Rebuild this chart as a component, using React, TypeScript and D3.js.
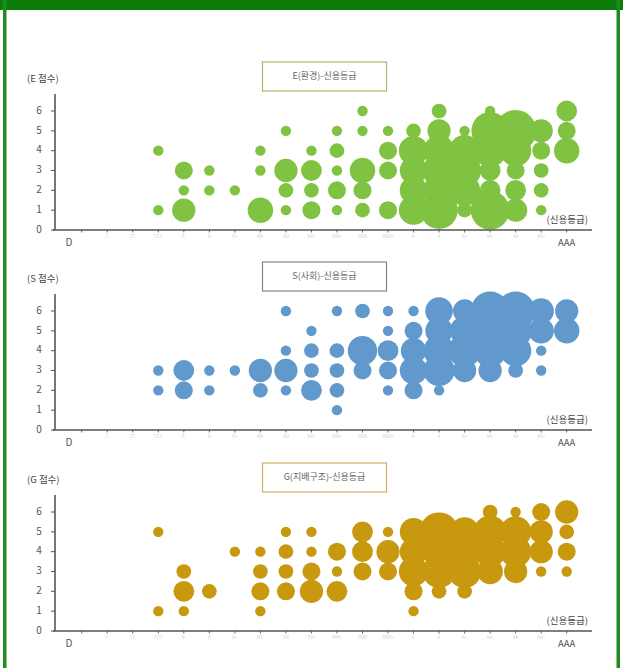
import React from 'react';
import * as d3 from 'd3';

// credit grades, low to high
const grades = ['D', 'C', 'CC', 'CCC', 'B-', 'B', 'B+', 'BB-', 'BB', 'BB+', 'BBB-', 'BBB', 'BBB+', 'A-', 'A', 'A+', 'AA-', 'AA', 'AA+', 'AAA'];
const scores = [0, 1, 2, 3, 4, 5, 6];

type Bubble = [string, number, number]; // grade, score, count

const eBubbles: Bubble[] = [
  ['CCC', 4, 1], ['CCC', 1, 1],
  ['B-', 3, 3], ['B-', 2, 1], ['B-', 1, 5],
  ['B', 3, 1], ['B', 2, 1],
  ['B+', 2, 1],
  ['BB-', 4, 1], ['BB-', 3, 1], ['BB-', 1, 6],
  ['BB', 5, 1], ['BB', 3, 5], ['BB', 2, 2], ['BB', 1, 1],
  ['BB+', 4, 1], ['BB+', 3, 4], ['BB+', 2, 2], ['BB+', 1, 3],
  ['BBB-', 5, 1], ['BBB-', 4, 2], ['BBB-', 3, 1], ['BBB-', 2, 3], ['BBB-', 1, 1],
  ['BBB', 6, 1], ['BBB', 5, 1], ['BBB', 3, 6], ['BBB', 2, 3], ['BBB', 1, 2],
  ['BBB+', 5, 1], ['BBB+', 4, 3], ['BBB+', 3, 3], ['BBB+', 1, 3],
  ['A-', 5, 2], ['A-', 4, 8], ['A-', 3, 7], ['A-', 2, 7], ['A-', 1, 8],
  ['A', 6, 2], ['A', 5, 5], ['A', 4, 9], ['A', 3, 10], ['A', 2, 9], ['A', 1, 13],
  ['A+', 5, 1], ['A+', 4, 9], ['A+', 3, 10], ['A+', 2, 9], ['A+', 1, 2],
  ['AA-', 6, 1], ['AA-', 5, 13], ['AA-', 4, 10], ['AA-', 3, 4], ['AA-', 2, 4], ['AA-', 1, 14],
  ['AA', 5, 16], ['AA', 4, 9], ['AA', 3, 3], ['AA', 2, 4], ['AA', 1, 5],
  ['AA+', 5, 5], ['AA+', 4, 3], ['AA+', 3, 2], ['AA+', 2, 2], ['AA+', 1, 1],
  ['AAA', 6, 4], ['AAA', 5, 3], ['AAA', 4, 6],
];

const sBubbles: Bubble[] = [
  ['CCC', 3, 1], ['CCC', 2, 1],
  ['B-', 3, 4], ['B-', 2, 3],
  ['B', 3, 1], ['B', 2, 1],
  ['B+', 3, 1],
  ['BB-', 3, 5], ['BB-', 2, 2],
  ['BB', 6, 1], ['BB', 4, 1], ['BB', 3, 5], ['BB', 2, 1],
  ['BB+', 5, 1], ['BB+', 4, 2], ['BB+', 3, 2], ['BB+', 2, 4],
  ['BBB-', 6, 1], ['BBB-', 4, 2], ['BBB-', 3, 2], ['BBB-', 2, 2], ['BBB-', 1, 1],
  ['BBB', 6, 2], ['BBB', 4, 8], ['BBB', 3, 3],
  ['BBB+', 6, 1], ['BBB+', 5, 1], ['BBB+', 4, 4], ['BBB+', 3, 3], ['BBB+', 2, 1],
  ['A-', 6, 1], ['A-', 5, 3], ['A-', 4, 6], ['A-', 3, 7], ['A-', 2, 3],
  ['A', 6, 7], ['A', 5, 7], ['A', 4, 9], ['A', 3, 9], ['A', 2, 1],
  ['A+', 6, 5], ['A+', 5, 8], ['A+', 4, 10], ['A+', 3, 5],
  ['AA-', 6, 14], ['AA-', 5, 10], ['AA-', 4, 10], ['AA-', 3, 5],
  ['AA', 6, 14], ['AA', 5, 10], ['AA', 4, 9], ['AA', 3, 2],
  ['AA+', 6, 6], ['AA+', 5, 6], ['AA+', 4, 1], ['AA+', 3, 1],
  ['AAA', 6, 5], ['AAA', 5, 6],
];

const gBubbles: Bubble[] = [
  ['CCC', 5, 1], ['CCC', 1, 1],
  ['B-', 3, 2], ['B-', 2, 4], ['B-', 1, 1],
  ['B', 2, 2],
  ['B+', 4, 1],
  ['BB-', 4, 1], ['BB-', 3, 2], ['BB-', 2, 3], ['BB-', 1, 1],
  ['BB', 5, 1], ['BB', 4, 2], ['BB', 3, 2], ['BB', 2, 3],
  ['BB+', 5, 1], ['BB+', 4, 1], ['BB+', 3, 3], ['BB+', 2, 5],
  ['BBB-', 4, 3], ['BBB-', 3, 1], ['BBB-', 2, 4],
  ['BBB', 5, 4], ['BBB', 4, 4], ['BBB', 3, 3],
  ['BBB+', 5, 1], ['BBB+', 4, 5], ['BBB+', 3, 3],
  ['A-', 5, 7], ['A-', 4, 7], ['A-', 3, 8], ['A-', 2, 3], ['A-', 1, 1],
  ['A', 5, 14], ['A', 4, 10], ['A', 3, 10], ['A', 2, 2],
  ['A+', 5, 8], ['A+', 4, 10], ['A+', 3, 10], ['A+', 2, 2],
  ['AA-', 6, 2], ['AA-', 5, 10], ['AA-', 4, 9], ['AA-', 3, 6],
  ['AA', 6, 1], ['AA', 5, 9], ['AA', 4, 9], ['AA', 3, 5],
  ['AA+', 6, 3], ['AA+', 5, 5], ['AA+', 4, 5], ['AA+', 3, 1],
  ['AAA', 6, 5], ['AAA', 5, 2], ['AAA', 4, 3], ['AAA', 3, 1],
];

const FONT = '"Noto Sans CJK KR", "Noto Sans", sans-serif';

const x = d3.scalePoint<string>().domain(grades).range([81.7, 566.7]);
const r = d3.scaleSqrt().domain([0, 1]).range([0, 5.2]);

interface PanelProps {
  base: number;
  yLabel: string;
  title: string;
  color: string;
  boxColor: string;
  data: Bubble[];
}

function Panel({ base, yLabel, title, color, boxColor, data }: PanelProps) {
  const y = d3.scaleLinear().domain([0, 6]).range([base, base - 119]);
  const sorted = [...data].sort((a, b) => b[2] - a[2]);
  return (
    <g fontFamily={FONT}>
      <rect x={262.5} y={base - 168} width={124} height={29} fill="#fff" stroke={boxColor} strokeWidth={1.2} />
      <text x={324.5} y={base - 153.5} fontSize={9} fill="#666" textAnchor="middle" dominantBaseline="middle">{title}</text>
      <text x={27} y={base - 151} fontSize={9.5} fill="#444" dominantBaseline="middle">{yLabel}</text>

      {sorted.map((d, i) => (
        <circle key={i} cx={x(d[0])} cy={y(d[1])} r={r(d[2])} fill={color} />
      ))}

      {/* y axis */}
      <line x1={55} x2={55} y1={base} y2={base - 136} stroke="#555" strokeWidth={1.6} />
      {scores.map(s => (
        <g key={s}>
          <line x1={51} x2={55} y1={y(s)} y2={y(s)} stroke="#555" strokeWidth={1} />
          <text x={39} y={y(s)} fontSize={10} fill="#555" textAnchor="middle" dominantBaseline="middle">{s}</text>
        </g>
      ))}

      {/* x axis */}
      <line x1={53} x2={592} y1={base} y2={base} stroke="#555" strokeWidth={1.6} />
      {grades.map(g => (
        <g key={g}>
          <line x1={x(g)} x2={x(g)} y1={base - 1} y2={base + 2.5} stroke="#666" strokeWidth={1} />
          {g !== 'D' && g !== 'AAA' && (
            <text x={x(g)} y={base + 7} fontSize={4.5} fill="#d4d4d4" textAnchor="middle" dominantBaseline="middle">{g}</text>
          )}
        </g>
      ))}
      <text x={69} y={base + 13} fontSize={10} fill="#555" textAnchor="middle" dominantBaseline="middle">D</text>
      <text x={x('AAA')} y={base + 13} fontSize={9.5} fill="#555" textAnchor="middle" dominantBaseline="middle">AAA</text>
      <text x={588} y={base - 10} fontSize={9.5} fill="#444" textAnchor="end" dominantBaseline="middle">(신용등급)</text>
    </g>
  );
}

export default function App() {
  return (
    <svg width={623} height={668} style={{ position: 'absolute', left: 0, top: 0, background: '#fff' }}>
      <rect x={0} y={0} width={623} height={668} fill="#fff" />
      <rect x={0} y={0} width={623} height={10} fill="#0a7d0a" />
      <rect x={3} y={0} width={3.5} height={668} fill="#1f8a1f" />
      <rect x={616.5} y={0} width={3.5} height={668} fill="#1f8a1f" />

      <Panel base={230} yLabel="(E 점수)" title="E(환경)-신용등급" color="#80c342" boxColor="#a9b766" data={eBubbles} />
      <Panel base={430} yLabel="(S 점수)" title="S(사회)-신용등급" color="#6199cd" boxColor="#7b8794" data={sBubbles} />
      <Panel base={631} yLabel="(G 점수)" title="G(지배구조)-신용등급" color="#c8980e" boxColor="#cdb463" data={gBubbles} />
    </svg>
  );
}
